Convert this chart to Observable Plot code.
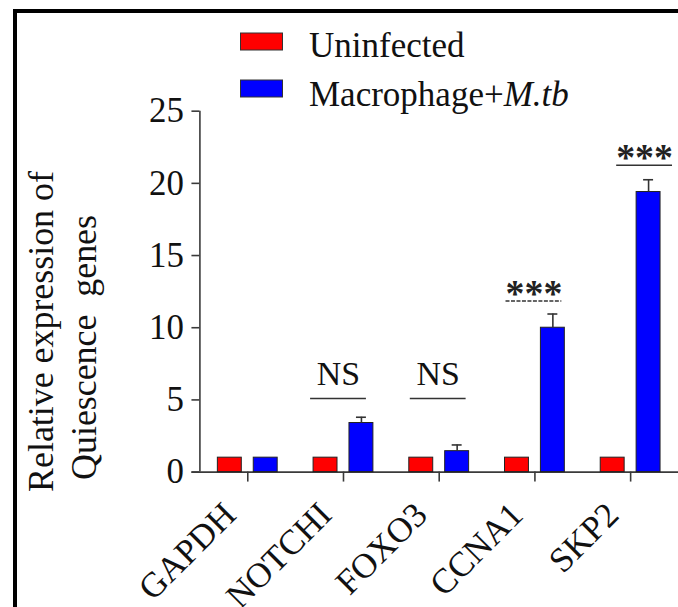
<!DOCTYPE html>
<html>
<head>
<meta charset="utf-8">
<script src="https://cdn.jsdelivr.net/npm/d3@7"></script>
<script src="https://cdn.jsdelivr.net/npm/@observablehq/plot@0.6"></script>
<style>
  html, body { margin: 0; padding: 0; background: #fff; overflow: hidden; }
  #wrap { position: relative; width: 678px; height: 607px; overflow: hidden;
          font-family: "Liberation Serif", "Times New Roman", serif; color: #111; }
  #frame { position: absolute; left: 13px; top: 9px; right: -20px; bottom: -20px;
           border-left: 4px solid #000; border-top: 4px solid #000; pointer-events: none; }
  #chart { position: absolute; left: 0; top: 0; }
  #legend { position: absolute; left: 0; top: 0; }
  svg text { white-space: pre; }
</style>
</head>
<body>
<div id="wrap">
  <div id="chart"></div>
  <svg id="legend" width="678" height="120"></svg>
  <div id="frame"></div>
</div>
<script>
// Quiescence gene expression: uninfected vs. M.tb-infected macrophages
const genes = ["GAPDH", "NOTCHI", "FOXO3", "CCNA1", "SKP2"];
const uninfected = [1, 1, 1, 1, 1];
const infected = [1, 3.4, 1.45, 10.0, 19.4];
const infectedErr = [0, 0.4, 0.43, 0.95, 0.85];
const yTicks = [0, 5, 10, 15, 20, 25];

// significance annotations (bracket height in y units)
const sigGenes = ["NOTCHI", "FOXO3", "CCNA1", "SKP2"];
const sigLabels = ["NS", "NS", "***", "***"];
const sigLevel = [5.1, 5.1, 11.85, 21.25];

const seriesNames = ["Uninfected", "Macrophage+"];
const seriesColors = ["#ff0000", "#0000ff"];

// layout constants (pixels)
const step = 96;            // width of one gene group
const barW = 24;            // bar width
const barOff = 18;          // bar centre offset from group centre
const sigShift = [-5, -1, -1, 14];
const sigHalf = 28;
const dashedBracket = [false, false, true, false];
const axisColor = "#3a3a3a";
const font = "Liberation Serif, Times New Roman, serif";

const px = v => v / step;
const gi = g => genes.indexOf(g);

const bracket = dashed => Plot.ruleY(sigLevel, {
  filter: (_, i) => dashedBracket[i] === dashed,
  y: d => d,
  x1: (_, i) => gi(sigGenes[i]) + px(sigShift[i] - sigHalf),
  x2: (_, i) => gi(sigGenes[i]) + px(sigShift[i] + sigHalf),
  stroke: "#333", strokeWidth: 1.6, strokeDasharray: dashed ? "4,1.5" : null
});

const chart = Plot.plot({
  width: 680,
  height: 607,
  marginLeft: 200,
  marginRight: 0,
  marginTop: 111,
  marginBottom: 134,
  style: { fontFamily: font, background: "transparent", overflow: "visible", color: "#111" },
  x: { domain: [-0.5, genes.length - 0.5], axis: null },
  y: { domain: [0, 25], axis: null },
  marks: [
    // axis lines
    Plot.ruleX([-0.5], { y1: 0, y2: 25, stroke: axisColor, strokeWidth: 1.6 }),
    Plot.ruleY([0], { x1: -0.5 - px(8), x2: genes.length - 0.4, stroke: axisColor, strokeWidth: 1.6 }),
    Plot.axisY({ ticks: yTicks, tickFormat: d => String(d), tickSize: 8, tickPadding: 8,
                 fontSize: 35, stroke: axisColor, strokeWidth: 1.6, label: null }),
    // x ticks
    Plot.axisX({ ticks: d3.range(genes.length), tickFormat: () => "", tickSize: 10,
                 stroke: axisColor, strokeWidth: 1.6, label: null }),
    // x tick labels
    Plot.axisX({ ticks: d3.range(genes.length), tickFormat: i => genes[i], tickSize: 0,
                 tickPadding: 14, tickRotate: -45, dx: -18, dy: 23, fontSize: 35,
                 label: null }),
    // bars
    Plot.rect(uninfected, {
      x1: (_, i) => i - px(barOff + barW / 2), x2: (_, i) => i - px(barOff - barW / 2),
      y1: 0, y2: d => d, fill: seriesColors[0], stroke: "#222", strokeWidth: 1
    }),
    Plot.rect(infected, {
      x1: (_, i) => i + px(barOff - barW / 2), x2: (_, i) => i + px(barOff + barW / 2),
      y1: 0, y2: d => d, fill: seriesColors[1], stroke: "#222", strokeWidth: 1
    }),
    // error bars (upper half)
    Plot.ruleX(infected, {
      filter: (_, i) => infectedErr[i] > 0,
      x: (_, i) => i + px(barOff), y1: d => d, y2: (d, i) => d + infectedErr[i],
      stroke: "#333", strokeWidth: 1.6
    }),
    Plot.ruleY(infected, {
      filter: (_, i) => infectedErr[i] > 0,
      y: (d, i) => d + infectedErr[i],
      x1: (_, i) => i + px(barOff - 5), x2: (_, i) => i + px(barOff + 5),
      stroke: "#333", strokeWidth: 1.6
    }),
    // significance brackets and labels
    bracket(false),
    bracket(true),
    Plot.text(sigLabels, {
      filter: d => d === "NS",
      x: (_, i) => gi(sigGenes[i]) + px(sigShift[i]), y: (_, i) => sigLevel[i],
      text: d => d, lineAnchor: "bottom", dy: -14, fontSize: 34, fill: "#111"
    }),
    Plot.text(sigLabels, {
      filter: d => d !== "NS",
      x: (_, i) => gi(sigGenes[i]) + px(sigShift[i]), y: (_, i) => sigLevel[i],
      text: d => d, lineAnchor: "bottom", dy: 5, fontSize: 38, fontWeight: "bold", fill: "#222"
    }),
    // y-axis title (two lines)
    Plot.text(["Relative expression of"], {
      frameAnchor: "left", rotate: -90, dx: -147, dy: 40,
      lineAnchor: "bottom", textAnchor: "middle", fontSize: 36, fill: "#111"
    }),
    Plot.text(["Quiescence\u00a0 genes"], {
      frameAnchor: "left", rotate: -90, dx: -104, dy: 56,
      lineAnchor: "bottom", textAnchor: "middle", fontSize: 36, fill: "#111"
    })
  ]
});
document.getElementById("chart").appendChild(chart);

// legend
const legend = d3.select("#legend");
const rows = [
  { color: seriesColors[0], y: 33, base: 57, parts: [{ t: seriesNames[0] }] },
  { color: seriesColors[1], y: 80, base: 106, parts: [{ t: seriesNames[1] }, { t: "M.tb", italic: true }] }
];
rows.forEach(r => {
  legend.append("rect").attr("x", 240.5).attr("y", r.y).attr("width", 42).attr("height", 17)
    .attr("fill", r.color).attr("stroke", "#333").attr("stroke-width", 1);
  const t = legend.append("text").attr("x", 309).attr("y", r.base)
    .attr("font-family", font).attr("font-size", 35).attr("fill", "#111");
  r.parts.forEach(p => t.append("tspan").attr("font-style", p.italic ? "italic" : null).text(p.t));
});
</script>
</body>
</html>
